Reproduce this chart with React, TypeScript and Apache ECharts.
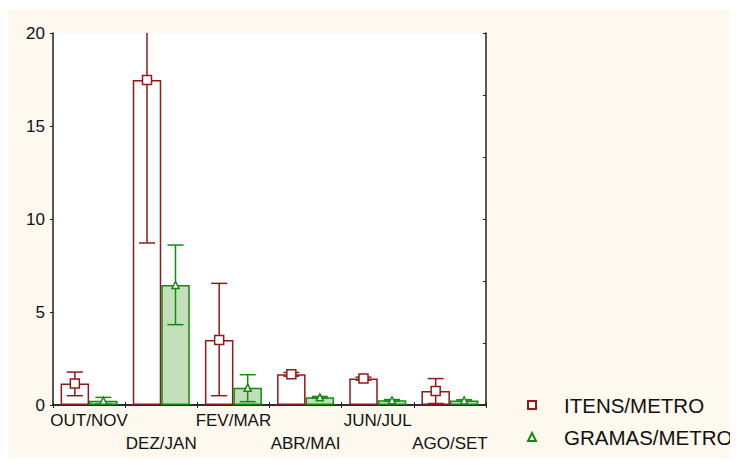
import React, { useEffect, useRef } from "react";
import * as echarts from "echarts";

const categories = ["OUT/NOV", "DEZ/JAN", "FEV/MAR", "ABR/MAI", "JUN/JUL", "AGO/SET"];
const itensMean = [1.15, 17.47, 3.49, 1.65, 1.42, 0.75];
const itensLow = [0.5, 8.71, 0.5, 1.55, 1.34, 0.08];
const itensHigh = [1.77, 26.2, 6.54, 1.75, 1.5, 1.42];
const gramasMean = [0.23, 6.45, 0.93, 0.41, 0.25, 0.24];
const gramasLow = [0.05, 4.32, 0.18, 0.36, 0.21, 0.2];
const gramasHigh = [0.41, 8.6, 1.63, 0.46, 0.29, 0.28];
const yTicks = [0, 5, 10, 15, 20];

const RED = "#8e1a1a";
const GREEN = "#118a11";
const FONT = 'Arial, "Liberation Sans", sans-serif';
const BAR_W = 28.5;

function errorRenderer(color: string, offset: number) {
  return (params: any, api: any) => {
    const idx = api.value(0);
    const lowP = api.coord([idx, api.value(1)]);
    const highP = api.coord([idx, api.value(2)]);
    const cs = params.coordSys;
    const x = lowP[0] + offset;
    const top = cs.y;
    const bottom = cs.y + cs.height;
    const yHigh = Math.max(highP[1], top);
    const yLow = Math.min(lowP[1], bottom);
    const half = 8;
    const style = { stroke: color, lineWidth: 1.5 };
    const children: any[] = [
      { type: "line", shape: { x1: x, y1: yHigh, x2: x, y2: yLow }, style },
    ];
    if (highP[1] >= top) {
      children.push({ type: "line", shape: { x1: x - half, y1: yHigh, x2: x + half, y2: yHigh }, style });
    }
    if (lowP[1] <= bottom) {
      children.push({ type: "line", shape: { x1: x - half, y1: yLow, x2: x + half, y2: yLow }, style });
    }
    return { type: "group", children };
  };
}

export default function App() {
  const ref = useRef<HTMLDivElement>(null);
  useEffect(() => {
    if (!ref.current) return;
    const chart = echarts.init(ref.current, null, { renderer: "svg" });
    const axisLine = { show: true, lineStyle: { color: "#222", width: 1.5 } };
    chart.setOption({
      animation: false,
      backgroundColor: "#fdf9ee",
      grid: {
        left: 45,
        top: 23,
        width: 433,
        height: 372,
        show: true,
        backgroundColor: "#ffffff",
        borderWidth: 0,
      },
      legend: {
        orient: "vertical",
        left: 514,
        top: 379,
        itemWidth: 8,
        itemHeight: 8,
        itemGap: 10,
        textStyle: { fontSize: 20.5, lineHeight: 22, color: "#111", fontFamily: FONT, padding: [0, 0, 0, 23] },
        data: [
          { name: "ITENS/METRO", icon: "rect" },
          { name: "GRAMAS/METRO", icon: "triangle" },
        ],
      },
      xAxis: [
        {
          type: "category",
          data: categories,
          position: "bottom",
          boundaryGap: true,
          axisLine,
          axisTick: { show: true, inside: true, length: 3, lineStyle: { color: "#222" } },
          axisLabel: {
            interval: 0,
            margin: 4,
            fontSize: 17,
            lineHeight: 23,
            color: "#111",
            fontFamily: FONT,
            formatter: (v: string, i: number) => (i % 2 === 1 ? "\n" + v : v),
          },
          splitLine: { show: false },
        },
        {
          type: "category",
          data: categories,
          position: "top",
          boundaryGap: true,
          axisLine,
          axisTick: { show: true, inside: true, length: 3, lineStyle: { color: "#222" } },
          axisLabel: { show: false },
          splitLine: { show: false },
        },
      ],
      yAxis: [
        {
          type: "value",
          min: yTicks[0],
          max: yTicks[yTicks.length - 1],
          interval: 5,
          position: "left",
          axisLine,
          axisTick: { show: true, inside: false, length: 3, lineStyle: { color: "#222" } },
          axisLabel: { fontSize: 17, color: "#111", fontFamily: FONT, margin: 8 },
          splitLine: { show: false },
        },
        {
          type: "value",
          min: 0,
          max: 6,
          interval: 1,
          position: "right",
          axisLine,
          axisTick: { show: true, inside: true, length: 3, lineStyle: { color: "#222" } },
          axisLabel: { show: false },
          splitLine: { show: false },
        },
      ],
      series: [
        {
          name: "itensBar",
          type: "bar",
          data: itensMean,
          barWidth: BAR_W,
          barGap: "0%",
          z: 2,
          itemStyle: { color: "#ffffff", borderColor: RED, borderWidth: 1.5 },
        },
        {
          name: "gramasBar",
          type: "bar",
          data: gramasMean,
          barWidth: BAR_W,
          barGap: "0%",
          z: 2,
          itemStyle: { color: "#c3dfba", borderColor: GREEN, borderWidth: 1.5 },
        },
        {
          name: "itensErr",
          type: "custom",
          z: 3,
          renderItem: errorRenderer(RED, -BAR_W / 2),
          data: categories.map((_, i) => [i, itensLow[i], itensHigh[i]]),
          encode: { x: 0, y: [1, 2] },
        },
        {
          name: "gramasErr",
          type: "custom",
          z: 3,
          renderItem: errorRenderer(GREEN, BAR_W / 2),
          data: categories.map((_, i) => [i, gramasLow[i], gramasHigh[i]]),
          encode: { x: 0, y: [1, 2] },
        },
        {
          name: "ITENS/METRO",
          type: "scatter",
          data: itensMean,
          symbol: "rect",
          symbolSize: 9,
          symbolOffset: [-BAR_W / 2, 0],
          z: 4,
          itemStyle: { color: "#ffffff", borderColor: RED, borderWidth: 1.5, opacity: 1 },
        },
        {
          name: "GRAMAS/METRO",
          type: "scatter",
          data: gramasMean,
          symbol: "triangle",
          symbolSize: 7,
          symbolOffset: [BAR_W / 2, 0],
          z: 4,
          itemStyle: { color: "#ffffff", borderColor: GREEN, borderWidth: 1.5, opacity: 1 },
        },
      ],
    });
    return () => chart.dispose();
  }, []);
  return (
    <div
      ref={ref}
      style={{ width: 730, height: 450, position: "relative", top: 2 }}
    />
  );
}
